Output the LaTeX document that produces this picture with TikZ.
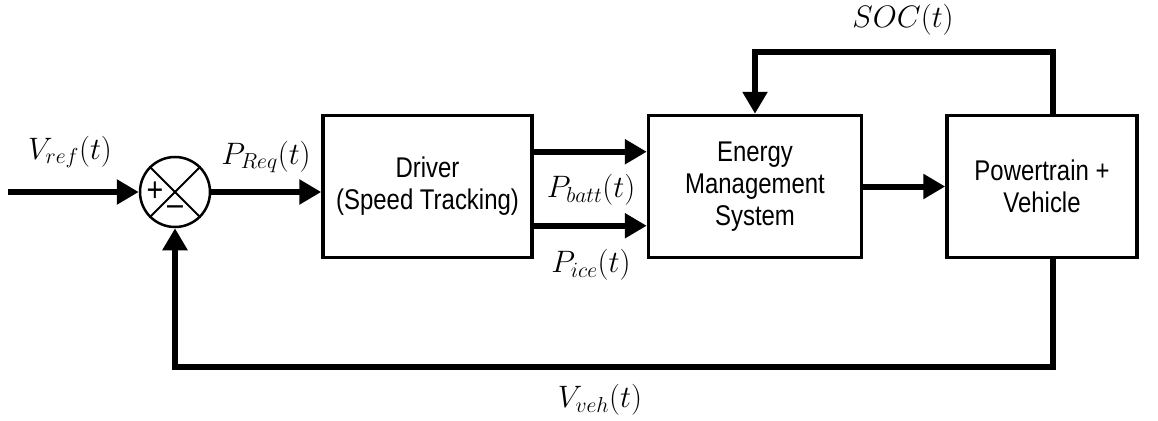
\RequirePackage{fix-cm}
\documentclass[tikz,border=0pt]{standalone}
\usepackage{fontspec}
\setmainfont{Liberation Sans}[FakeStretch=0.84]
\usetikzlibrary{arrows.meta,calc}
\begin{document}
\begin{tikzpicture}[x=1pt,y=-1pt,
  blk/.style={draw,line width=3.5pt,minimum height=142pt,align=center,inner sep=0pt,
    font=\fontsize{28.5}{32}\selectfont},
  sig/.style={line width=6pt,-{Triangle[length=22pt,width=24pt]}},
  lbl/.style={font=\fontsize{31}{33}\selectfont,inner sep=0pt}]
\useasboundingbox (0,0) rectangle (1158,420);
% blocks
\node[blk,minimum width=209pt] (drv) at (427.5,186.5) {Driver\\(Speed Tracking)};
\node[blk,minimum width=213pt] (ems) at (755,186.5) {Energy\\Management\\System};
\node[blk,minimum width=190pt] (pt) at (1042,186.5) {Powertrain +\\Vehicle};
% summing junction
\node[draw,circle,line width=2.5pt,minimum size=70pt,inner sep=0pt] (sum) at (175,192) {};
\draw[line width=2pt] (sum.north west) -- (sum.south east);
\draw[line width=2pt] (sum.north east) -- (sum.south west);
\node[font=\fontsize{34}{34}\selectfont,inner sep=0pt] (plus) at ($(sum.center)+(-20,0)$) {+};
\node[font=\fontsize{34}{34}\selectfont,inner sep=0pt] (minus) at ($(sum.center)+(0,19)$) {\textendash};
% coordinates
\coordinate (vin) at (8,192);
\coordinate (b1) at ($(drv.north east)+(0,38)$);
\coordinate (b2) at ($(drv.north east)+(0,112)$);
\coordinate (ptsoc) at ($(pt.north)+(11,0)$);
\coordinate (ptfb) at ($(pt.south)+(11,0)$);
\coordinate (socc) at ($(ems.north)+(0,-62)$);
\coordinate (fbc) at ($(sum.south)+(0,139)$);
% connectors
\draw[sig] (vin) -- (sum.west);
\draw[sig] (sum.east) -- (sum.east -| drv.west);
\draw[sig] (b1) -- (b1 -| ems.west);
\draw[sig] (b2) -- (b2 -| ems.west);
\draw[sig] (ems.east) -- (pt.west);
\draw[sig] (ptsoc) |- (socc) -- (ems.north);
\draw[sig] (ptfb) |- (fbc) -- (sum.south);
% labels
\node[lbl] (lvref) at (70,152) {$V_{ref}(t)$};
\node[lbl] (lpreq) at (266,157) {$P_{Req}(t)$};
\node[lbl] (lpbatt) at (591,190) {$P_{batt}(t)$};
\node[lbl] (lpice) at (591,265) {$P_{ice}(t)$};
\node[lbl] (lsoc) at (903,20) {$SOC(t)$};
\node[lbl] (lvveh) at (600,400) {$V_{veh}(t)$};
\end{tikzpicture}
\end{document}
